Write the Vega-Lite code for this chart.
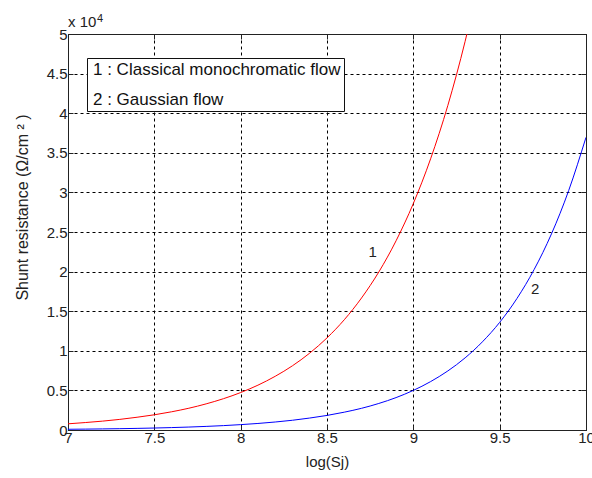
{
  "$schema": "https://vega.github.io/schema/vega-lite/v6.json",
  "width": 518,
  "height": 396,
  "autosize": {"type": "none"},
  "padding": {"left": 68, "top": 34, "right": 6, "bottom": 48},
  "background": "white",
  "config": {
    "font": "Liberation Sans",
    "view": {"stroke": "#222222", "strokeWidth": 1},
    "axis": {
      "labelFont": "Liberation Sans",
      "labelFontSize": 15,
      "labelColor": "#222222",
      "labelFlush": false,
      "titleFont": "Liberation Sans",
      "titleFontWeight": "normal",
      "titleColor": "#222222",
      "domainColor": "#222222",
      "tickColor": "#222222",
      "tickSize": -5,
      "gridColor": "#000000",
      "gridOpacity": 1,
      "gridWidth": 1,
      "gridDash": [3, 3]
    }
  },
  "datasets": {
    "curves": [
      {"curve": "1 : Classical monochromatic flow", "logSj": 7.0, "R": 780},
      {"curve": "1 : Classical monochromatic flow", "logSj": 7.1, "R": 940},
      {"curve": "1 : Classical monochromatic flow", "logSj": 7.2, "R": 1120},
      {"curve": "1 : Classical monochromatic flow", "logSj": 7.3, "R": 1340},
      {"curve": "1 : Classical monochromatic flow", "logSj": 7.4, "R": 1610},
      {"curve": "1 : Classical monochromatic flow", "logSj": 7.5, "R": 1920},
      {"curve": "1 : Classical monochromatic flow", "logSj": 7.6, "R": 2300},
      {"curve": "1 : Classical monochromatic flow", "logSj": 7.7, "R": 2750},
      {"curve": "1 : Classical monochromatic flow", "logSj": 7.8, "R": 3300},
      {"curve": "1 : Classical monochromatic flow", "logSj": 7.9, "R": 3950},
      {"curve": "1 : Classical monochromatic flow", "logSj": 8.0, "R": 4730},
      {"curve": "1 : Classical monochromatic flow", "logSj": 8.1, "R": 5660},
      {"curve": "1 : Classical monochromatic flow", "logSj": 8.2, "R": 6780},
      {"curve": "1 : Classical monochromatic flow", "logSj": 8.3, "R": 8110},
      {"curve": "1 : Classical monochromatic flow", "logSj": 8.4, "R": 9710},
      {"curve": "1 : Classical monochromatic flow", "logSj": 8.5, "R": 11630},
      {"curve": "1 : Classical monochromatic flow", "logSj": 8.6, "R": 13920},
      {"curve": "1 : Classical monochromatic flow", "logSj": 8.7, "R": 16670},
      {"curve": "1 : Classical monochromatic flow", "logSj": 8.8, "R": 19950},
      {"curve": "1 : Classical monochromatic flow", "logSj": 8.9, "R": 23890},
      {"curve": "1 : Classical monochromatic flow", "logSj": 9.0, "R": 28600},
      {"curve": "1 : Classical monochromatic flow", "logSj": 9.1, "R": 34240},
      {"curve": "1 : Classical monochromatic flow", "logSj": 9.2, "R": 40990},
      {"curve": "1 : Classical monochromatic flow", "logSj": 9.3, "R": 49080},
      {"curve": "1 : Classical monochromatic flow", "logSj": 9.315, "R": 50420},
      {"curve": "2 : Gaussian flow", "logSj": 7.0, "R": 92},
      {"curve": "2 : Gaussian flow", "logSj": 7.1, "R": 112},
      {"curve": "2 : Gaussian flow", "logSj": 7.2, "R": 137},
      {"curve": "2 : Gaussian flow", "logSj": 7.3, "R": 167},
      {"curve": "2 : Gaussian flow", "logSj": 7.4, "R": 204},
      {"curve": "2 : Gaussian flow", "logSj": 7.5, "R": 249},
      {"curve": "2 : Gaussian flow", "logSj": 7.6, "R": 304},
      {"curve": "2 : Gaussian flow", "logSj": 7.7, "R": 371},
      {"curve": "2 : Gaussian flow", "logSj": 7.8, "R": 454},
      {"curve": "2 : Gaussian flow", "logSj": 7.9, "R": 554},
      {"curve": "2 : Gaussian flow", "logSj": 8.0, "R": 677},
      {"curve": "2 : Gaussian flow", "logSj": 8.1, "R": 826},
      {"curve": "2 : Gaussian flow", "logSj": 8.2, "R": 1010},
      {"curve": "2 : Gaussian flow", "logSj": 8.3, "R": 1230},
      {"curve": "2 : Gaussian flow", "logSj": 8.4, "R": 1510},
      {"curve": "2 : Gaussian flow", "logSj": 8.5, "R": 1840},
      {"curve": "2 : Gaussian flow", "logSj": 8.6, "R": 2250},
      {"curve": "2 : Gaussian flow", "logSj": 8.7, "R": 2740},
      {"curve": "2 : Gaussian flow", "logSj": 8.8, "R": 3350},
      {"curve": "2 : Gaussian flow", "logSj": 8.9, "R": 4090},
      {"curve": "2 : Gaussian flow", "logSj": 9.0, "R": 5000},
      {"curve": "2 : Gaussian flow", "logSj": 9.1, "R": 6110},
      {"curve": "2 : Gaussian flow", "logSj": 9.2, "R": 7460},
      {"curve": "2 : Gaussian flow", "logSj": 9.3, "R": 9110},
      {"curve": "2 : Gaussian flow", "logSj": 9.4, "R": 11130},
      {"curve": "2 : Gaussian flow", "logSj": 9.5, "R": 13590},
      {"curve": "2 : Gaussian flow", "logSj": 9.6, "R": 16600},
      {"curve": "2 : Gaussian flow", "logSj": 9.7, "R": 20280},
      {"curve": "2 : Gaussian flow", "logSj": 9.8, "R": 24760},
      {"curve": "2 : Gaussian flow", "logSj": 9.9, "R": 30250},
      {"curve": "2 : Gaussian flow", "logSj": 10.0, "R": 36950}
    ],
    "curveLabels": [
      {"label": "1", "logSj": 8.765, "R": 22500},
      {"label": "2", "logSj": 9.706, "R": 17800}
    ],
    "exponent": [
      {"base": "x 10", "power": "4", "logSj": 7, "R": 50000}
    ]
  },
  "layer": [
    {
      "data": {"name": "curves"},
      "mark": {"type": "line", "strokeWidth": 1, "clip": true, "interpolate": "monotone"},
      "encoding": {
        "x": {
          "field": "logSj",
          "type": "quantitative",
          "scale": {"domain": [7, 10], "nice": false, "zero": false},
          "axis": {
            "orient": "bottom",
            "values": [7, 7.5, 8, 8.5, 9, 9.5, 10],
            "format": "~g",
            "grid": true,
            "labelPadding": 5,
            "title": "log(Sj)",
            "titleFontSize": 15,
            "titlePadding": 9
          }
        },
        "y": {
          "field": "R",
          "type": "quantitative",
          "scale": {"domain": [0, 50000], "nice": false},
          "axis": {
            "orient": "left",
            "values": [0, 5000, 10000, 15000, 20000, 25000, 30000, 35000, 40000, 45000, 50000],
            "labelExpr": "format(datum.value / 10000, '~g')",
            "grid": true,
            "labelPadding": 6,
            "title": "Shunt resistance (Ω/cm ² )",
            "titleFontSize": 16,
            "titlePadding": 16,
            "titleY": 173
          }
        },
        "color": {
          "field": "curve",
          "type": "nominal",
          "scale": {
            "domain": ["1 : Classical monochromatic flow", "2 : Gaussian flow"],
            "range": ["#ff0000", "#0000ff"]
          },
          "legend": {
            "orient": "none",
            "legendX": 19,
            "legendY": 24,
            "title": null,
            "symbolSize": 0,
            "symbolOpacity": 0,
            "labelOffset": -14,
            "labelFont": "Liberation Sans",
            "labelFontSize": 17,
            "labelColor": "#111111",
            "labelLimit": 400,
            "rowPadding": 12,
            "padding": 3,
            "strokeColor": "#111111",
            "fillColor": "white"
          }
        }
      }
    },
    {
      "data": {"name": "curveLabels"},
      "mark": {"type": "text", "fontSize": 15, "color": "#222222", "align": "center", "baseline": "middle"},
      "encoding": {
        "x": {
          "field": "logSj",
          "type": "quantitative",
          "axis": {
            "orient": "top",
            "values": [7, 7.5, 8, 8.5, 9, 9.5, 10],
            "labels": false,
            "grid": false,
            "title": null
          }
        },
        "y": {
          "field": "R",
          "type": "quantitative",
          "axis": {
            "orient": "right",
            "values": [0, 5000, 10000, 15000, 20000, 25000, 30000, 35000, 40000, 45000, 50000],
            "labels": false,
            "grid": false,
            "title": null
          }
        },
        "text": {"field": "label"}
      }
    },
    {
      "data": {"name": "exponent"},
      "mark": {"type": "text", "fontSize": 15, "color": "#222222", "align": "left", "baseline": "alphabetic", "dy": -7},
      "encoding": {
        "x": {"field": "logSj", "type": "quantitative", "axis": null},
        "y": {"field": "R", "type": "quantitative", "axis": null},
        "text": {"field": "base"}
      }
    },
    {
      "data": {"name": "exponent"},
      "mark": {"type": "text", "fontSize": 11, "color": "#222222", "align": "left", "baseline": "alphabetic", "dx": 29, "dy": -12},
      "encoding": {
        "x": {"field": "logSj", "type": "quantitative", "axis": null},
        "y": {"field": "R", "type": "quantitative", "axis": null},
        "text": {"field": "power"}
      }
    }
  ],
  "resolve": {"axis": {"x": "independent", "y": "independent"}}
}
